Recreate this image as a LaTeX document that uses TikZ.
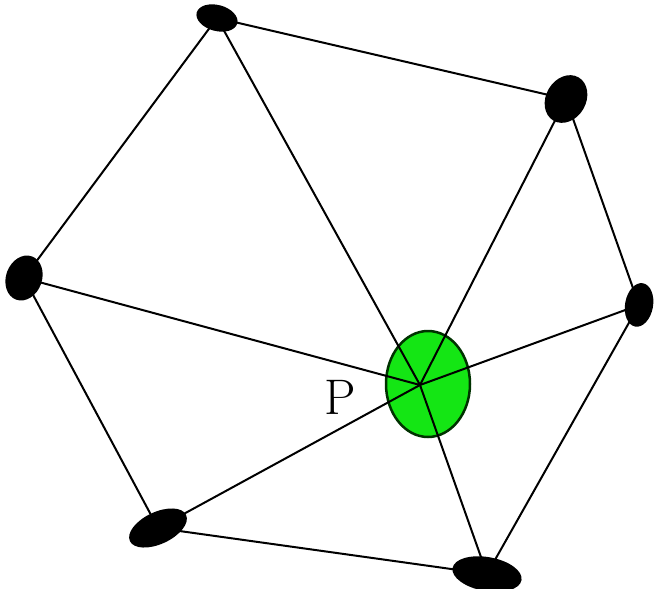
\documentclass[tikz,border=0pt]{standalone}
\usetikzlibrary{shapes.geometric}
\definecolor{pgreen}{RGB}{20,230,20}
\definecolor{pdark}{RGB}{0,50,0}
\begin{document}
\begin{tikzpicture}[x=1pt,y=-1pt,
  edge/.style={line width=2pt,black}]
\useasboundingbox (0,0) rectangle (654,589);
\fill[white] (0,0) rectangle (654,589);
\coordinate (c) at (420,385);
\coordinate (v1) at (217,18);
\coordinate (v2) at (566,99);
\coordinate (v3) at (639,305);
\coordinate (v4) at (487,574);
\coordinate (v5) at (158,528);
\coordinate (v6) at (24,278);
\draw[edge] (v1) -- (v2) -- (v3) -- (v4) -- (v5) -- (v6) -- cycle;
\node[draw=pdark,line width=2.5pt,fill=pgreen,ellipse,minimum width=84pt,minimum height=106pt,inner sep=0pt] (g) at (428,384) {};
\foreach \v in {v1,v2,v3,v4,v5,v6} \draw[edge] (c) -- (\v);
\fill[black,rotate around={-15:(v1)}] (v1) ellipse (21 and 13);
\fill[black,rotate around={60:(v2)}] (v2) ellipse (25 and 20);
\fill[black,rotate around={80:(v3)}] (v3) ellipse (22 and 14);
\fill[black,rotate around={-10:(v4)}] (v4) ellipse (35 and 17);
\fill[black,rotate around={25:(v5)}] (v5) ellipse (31 and 16);
\fill[black,rotate around={70:(v6)}] (v6) ellipse (23 and 18);
\node[font=\fontsize{50}{50}\selectfont,inner sep=0pt] (p) at (340,397) {P};
\end{tikzpicture}
\end{document}
